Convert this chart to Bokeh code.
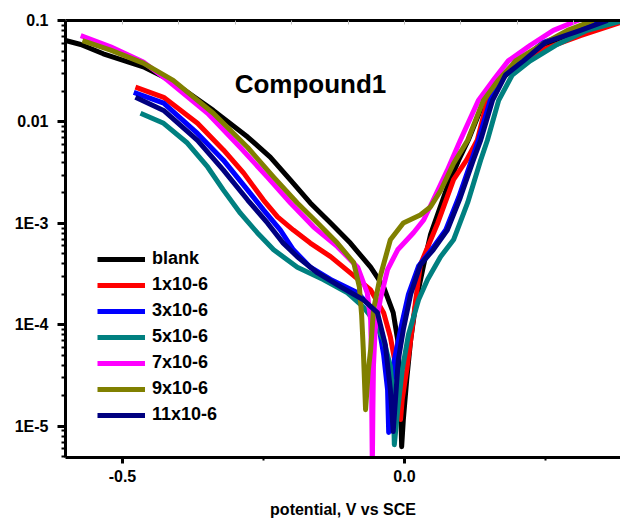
from bokeh.plotting import figure
from bokeh.models import (Range1d, LinearAxis, FixedTicker, PrintfTickFormatter,
                          Legend, LegendItem, Label)
from bokeh.embed import file_html
from bokeh.resources import INLINE

# ---------------- data (potential in V vs SCE, current density) -------------
blank_potential = [-0.601, -0.574, -0.534, -0.463, -0.415, -0.339, -0.278, -0.238, -0.202, -0.167,
                   -0.131, -0.096, -0.060, -0.037, -0.020, -0.012, -0.009, -0.007, -0.005,
                   -0.002, 0.004, 0.011, 0.021, 0.034, 0.046, 0.076, 0.096, 0.113, 0.138,
                   0.165, 0.197, 0.241, 0.294, 0.348, 0.374]
blank_current = [6.35e-2, 5.8e-2, 4.7e-2, 3.5e-2, 2.57e-2, 1.30e-2, 7.1e-3, 4.5e-3, 2.67e-3, 1.59e-3,
                 1.01e-3, 6.4e-4, 3.7e-4, 2.37e-4, 1.32e-4, 7.1e-5, 3.6e-5, 1.8e-5, 6.3e-6,
                 1.17e-5, 2.9e-5, 7.1e-5, 1.77e-4, 3.9e-4, 7.7e-4, 2.3e-3, 4.2e-3, 6.6e-3, 1.46e-2,
                 2.4e-2, 3.6e-2, 5.3e-2, 7.1e-2, 9.55e-2, 1.02e-1]

c1_potential = [-0.477, -0.427, -0.367, -0.321, -0.285, -0.250, -0.225, -0.197, -0.167, -0.131,
                -0.096, -0.060, -0.037, -0.025, -0.012, -0.007,
                -0.004, 0.004, 0.011, 0.020, 0.028, 0.059, 0.087, 0.110, 0.129, 0.147,
                0.170, 0.206, 0.250, 0.312, 0.383]
c1_current = [2.2e-2, 1.75e-2, 9.7e-3, 5.3e-3, 3.13e-3, 1.70e-3, 1.16e-3, 8.6e-4, 6.4e-4, 4.7e-4,
              3.25e-4, 2.21e-4, 1.32e-4, 7.6e-5, 3.1e-5, 1.17e-5,
              1.84e-5, 3.6e-5, 7.1e-5, 1.77e-4, 3.9e-4, 1.01e-3, 2.7e-3, 4.2e-3, 6.6e-3, 1.63e-2,
              2.7e-2, 3.9e-2, 5.3e-2, 7.1e-2, 9.55e-2]

c3_potential = [-0.480, -0.427, -0.367, -0.321, -0.278, -0.250, -0.220, -0.197, -0.167, -0.131,
                -0.083, -0.060, -0.046, -0.037, -0.030, -0.028,
                -0.025, -0.018, -0.007, 0.007, 0.025, 0.048, 0.073,
                0.096, 0.119, 0.131, 0.152, 0.176, 0.207, 0.246, 0.309, 0.356]
c3_current = [1.96e-2, 1.53e-2, 7.7e-3, 4.2e-3, 2.13e-3, 1.36e-3, 8.6e-4, 5.5e-4, 3.7e-4, 2.8e-4,
              2.07e-4, 1.5e-4, 1.0e-4, 5.1e-5, 2.3e-5, 8.7e-6,
              1.84e-5, 4.5e-5, 9.0e-5, 2.0e-4, 3.8e-4, 5.5e-4, 8.6e-4,
              1.8e-3, 4.2e-3, 6.6e-3, 1.63e-2, 2.9e-2, 4.0e-2, 6.1e-2, 8.0e-2, 1.0e-1]

c5_potential = [-0.468, -0.427, -0.385, -0.349, -0.321, -0.291, -0.261, -0.232, -0.190, -0.144,
                -0.101, -0.073, -0.055, -0.037, -0.025, -0.020, -0.018,
                -0.012, -0.004, 0.007, 0.025, 0.041, 0.064, 0.087, 0.112, 0.135, 0.147,
                0.167, 0.191, 0.223, 0.268, 0.324, 0.383]
c5_current = [1.22e-2, 9.7e-3, 6.2e-3, 3.6e-3, 2.13e-3, 1.26e-3, 8.1e-4, 5.5e-4, 3.7e-4, 2.8e-4,
              2.07e-4, 1.5e-4, 1.12e-4, 7.1e-5, 3.9e-5, 1.84e-5, 6.6e-6,
              1.46e-5, 3.6e-5, 8.0e-5, 1.77e-4, 2.8e-4, 4.7e-4, 6.9e-4, 1.6e-3, 4.2e-3, 6.6e-3,
              1.63e-2, 2.9e-2, 4.0e-2, 5.7e-2, 8.0e-2, 9.8e-2]

c7_potential = [-0.574, -0.521, -0.463, -0.420, -0.349, -0.291, -0.243, -0.202, -0.161, -0.119,
                -0.083, -0.066, -0.060, -0.058, -0.058, -0.057,
                -0.056, -0.055, -0.052, -0.043, -0.030, -0.012, 0.016, 0.034, 0.051, 0.076,
                0.099, 0.131, 0.158, 0.184, 0.223, 0.264, 0.307, 0.330]
c7_current = [7.1e-2, 5.5e-2, 3.9e-2, 2.57e-2, 1.22e-2, 5.6e-3, 2.86e-3, 1.59e-3, 9.2e-4, 5.9e-4,
              3.7e-4, 2.07e-4, 1.12e-4, 3.9e-5, 1.46e-5, 3.8e-6,
              1.46e-5, 3.9e-5, 9.0e-5, 1.77e-4, 3.5e-4, 5.5e-4, 8.1e-4, 1.08e-3, 1.7e-3, 3.35e-3,
              6.6e-3, 1.63e-2, 2.6e-2, 4.0e-2, 5.7e-2, 8.0e-2, 1.0e-1, 1.12e-1]

c9_potential = [-0.571, -0.521, -0.463, -0.410, -0.339, -0.278, -0.232, -0.190, -0.154, -0.119,
                -0.090, -0.080, -0.076, -0.073, -0.069,
                -0.064, -0.060, -0.055, -0.043, -0.025, -0.002, 0.028, 0.046, 0.064, 0.087,
                0.112, 0.140, 0.167, 0.197, 0.241, 0.289, 0.335]
c9_current = [6.35e-2, 5.1e-2, 3.8e-2, 2.57e-2, 1.22e-2, 5.6e-3, 2.86e-3, 1.59e-3, 1.01e-3, 6.4e-4,
              4.1e-4, 2.37e-4, 1.26e-4, 5.7e-5, 1.46e-5,
              3.6e-5, 5.7e-5, 1.4e-4, 3.0e-4, 6.9e-4, 1.01e-3, 1.21e-3, 1.45e-3, 2.1e-3, 3.9e-3,
              6.6e-3, 1.63e-2, 2.6e-2, 4.0e-2, 5.7e-2, 8.0e-2, 1.0e-1]

c11_potential = [-0.477, -0.427, -0.367, -0.321, -0.278, -0.243, -0.215, -0.190, -0.154, -0.113,
                 -0.073, -0.048, -0.034, -0.025, -0.020,
                 -0.016, -0.011, -0.002, 0.011, 0.028, 0.051, 0.076,
                 0.099, 0.122, 0.135, 0.156, 0.179, 0.211, 0.250, 0.312, 0.360]
c11_current = [1.75e-2, 1.30e-2, 6.6e-3, 3.35e-3, 1.70e-3, 1.01e-3, 6.4e-4, 4.7e-4, 3.25e-4, 2.37e-4,
               1.77e-4, 1.32e-4, 6.4e-5, 2.3e-5, 8.9e-6,
               1.84e-5, 4.5e-5, 9.0e-5, 2.0e-4, 3.9e-4, 5.5e-4, 8.6e-4,
               1.8e-3, 4.2e-3, 6.6e-3, 1.63e-2, 2.9e-2, 4.0e-2, 6.1e-2, 8.0e-2, 1.0e-1]

series_labels = ["blank", "1x10-6", "3x10-6", "5x10-6", "7x10-6", "9x10-6", "11x10-6"]
series_colors = ["#000000", "#FF0000", "#0000FF", "#008080", "#FF00FF", "#808000", "#000080"]
series_x = [blank_potential, c1_potential, c3_potential, c5_potential, c7_potential, c9_potential, c11_potential]
series_y = [blank_current, c1_current, c3_current, c5_current, c7_current, c9_current, c11_current]

x_major_ticks = [-0.5, 0.0, 0.5]
x_minor_ticks = [-0.25, 0.25]
top_ticks = [-0.6, -0.5, -0.4, -0.3, -0.2, -0.1, 0.0, 0.1, 0.2, 0.3]
y_major_ticks = [1e-5, 1e-4, 1e-3, 1e-2, 1e-1]
y_major_labels = ["1E-5", "1E-4", "1E-3", "0.01", "0.1"]
y_minor_ticks = [5e-6, 6e-6, 7e-6, 8e-6, 9e-6,
                 2e-5, 3e-5, 4e-5, 5e-5, 6e-5, 7e-5, 8e-5, 9e-5,
                 2e-4, 3e-4, 4e-4, 5e-4, 6e-4, 7e-4, 8e-4, 9e-4,
                 2e-3, 3e-3, 4e-3, 5e-3, 6e-3, 7e-3, 8e-3, 9e-3,
                 2e-2, 3e-2, 4e-2, 5e-2, 6e-2, 7e-2, 8e-2, 9e-2]

FONT = "Liberation Sans"

p = figure(width=620, height=520, y_axis_type="log",
           x_range=Range1d(-0.601, 0.383), y_range=Range1d(4.93e-6, 0.1),
           output_backend="svg", toolbar_location=None,
           min_border_left=65, min_border_right=0, min_border_top=20, min_border_bottom=62)
p.outline_line_color = None
p.xgrid.visible = False
p.ygrid.visible = False
p.background_fill_color = "white"

renderers = []
for xs, ys, col in zip(series_x, series_y, series_colors):
    r = p.line(xs, ys, line_color=col, line_width=5, line_join="round")
    renderers.append(r)

# bottom axis
xa = p.xaxis[0]
xa.ticker = FixedTicker(ticks=x_major_ticks, minor_ticks=x_minor_ticks)
xa.formatter = PrintfTickFormatter(format="%.1f")
xa.axis_line_width = 3
xa.axis_line_color = "black"
xa.major_tick_line_width = 3
xa.major_tick_line_color = "black"
xa.minor_tick_line_width = 2
xa.minor_tick_line_color = "black"
xa.major_tick_out = 6
xa.major_tick_in = 0
xa.minor_tick_out = 3
xa.minor_tick_in = 0
xa.major_label_text_font = FONT
xa.major_label_text_font_style = "bold"
xa.major_label_text_font_size = "16px"
xa.major_label_text_color = "black"
xa.major_label_standoff = 6
xa.axis_label = "potential, V vs SCE"
xa.axis_label_text_font = FONT
xa.axis_label_text_font_style = "bold"
xa.axis_label_text_font_size = "16px"
xa.axis_label_text_color = "black"
xa.axis_label_standoff = 16

# left axis
ya = p.yaxis[0]
ya.ticker = FixedTicker(ticks=y_major_ticks, minor_ticks=y_minor_ticks)
ya.major_label_overrides = dict(zip(y_major_ticks, y_major_labels))
ya.axis_line_width = 3
ya.axis_line_color = "black"
ya.major_tick_line_width = 3
ya.major_tick_line_color = "black"
ya.minor_tick_line_width = 2
ya.minor_tick_line_color = "black"
ya.major_tick_out = 8
ya.major_tick_in = 0
ya.minor_tick_out = 4
ya.minor_tick_in = 0
ya.major_label_text_font = FONT
ya.major_label_text_font_style = "bold"
ya.major_label_text_font_size = "16px"
ya.major_label_text_color = "black"
ya.major_label_standoff = 9

# top axis line with faint inward minor ticks, no labels
ta = LinearAxis(ticker=FixedTicker(ticks=[], minor_ticks=top_ticks))
ta.axis_line_width = 3
ta.axis_line_color = "black"
ta.minor_tick_line_color = "#bbbbbb"
ta.minor_tick_line_width = 1
ta.minor_tick_in = 4
ta.minor_tick_out = 0
ta.major_tick_in = 0
ta.major_tick_out = 0
ta.major_label_standoff = 0
p.add_layout(ta, "above")

legend = Legend(items=[LegendItem(label=lab, renderers=[r]) for lab, r in zip(series_labels, renderers)],
                location=(32, 32), orientation="vertical",
                glyph_width=48, glyph_height=20, label_height=20, spacing=5,
                padding=0, margin=0, label_standoff=7,
                border_line_color=None, background_fill_alpha=0,
                label_text_font=FONT, label_text_font_style="bold", label_text_font_size="18px",
                label_text_color="black")
p.add_layout(legend)

title = Label(x=245, y=374, x_units="screen", y_units="screen", text="Compound1",
              text_align="center", text_baseline="middle", text_color="black",
              text_font=FONT, text_font_style="bold", text_font_size="26px")
p.add_layout(title)

open("out.html", "w").write(file_html(p, INLINE))
